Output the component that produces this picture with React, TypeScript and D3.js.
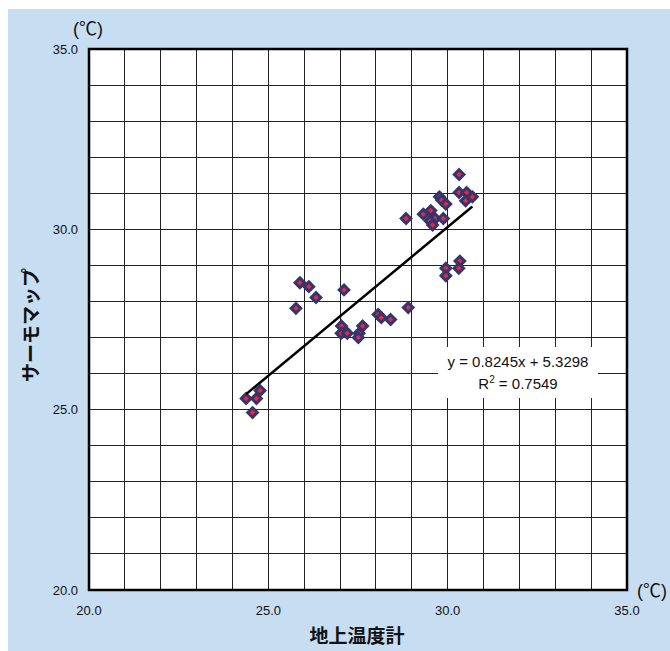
import React from "react";
import { scaleLinear, range, line, extent } from "d3";

// readings: ground thermometer (x) vs thermal map (y), in °C
const groundTemp = [
  30.32, 30.32, 30.53, 30.69, 30.5, 29.77, 29.83, 29.95, 28.84, 29.32,
  29.53, 29.65, 29.51, 29.58, 29.88, 30.34, 29.95, 30.31, 29.95,
  25.88, 26.13, 26.33, 25.77, 27.11, 27.04, 27.03, 27.2, 27.63, 27.53,
  27.51, 28.06, 28.15, 28.41, 28.9,
  24.38, 24.67, 24.77, 24.56,
];
const thermoMap = [
  31.52, 31.02, 31.02, 30.9, 30.79, 30.9, 30.81, 30.7, 30.3, 30.42,
  30.52, 30.3, 30.23, 30.12, 30.3, 29.12, 28.92, 28.92, 28.71,
  28.52, 28.41, 28.11, 27.81, 28.32, 27.32, 27.12, 27.12, 27.32, 27.12,
  27.0, 27.64, 27.55, 27.5, 27.83,
  25.31, 25.31, 25.53, 24.92,
];
const slope = 0.8245;
const intercept = 5.3298;
const rSquared = 0.7549;
const axisTicks = [20, 25, 30, 35];
const gridTicks = range(20, 36, 1);

const W = 670;
const H = 651;
const plot = { left: 89, top: 49, right: 627, bottom: 590 };

export default function App() {
  const x = scaleLinear().domain([20, 35]).range([plot.left, plot.right]);
  const y = scaleLinear().domain([20, 35]).range([plot.bottom, plot.top]);

  const pts = groundTemp.map((g, i) => ({ g, t: thermoMap[i] }));
  const [x0, x1] = extent(groundTemp) as [number, number];
  const trend = line<number>()
    .x((d) => x(d))
    .y((d) => y(slope * d + intercept))([x0, x1]);

  const font = "'Liberation Sans', Arial, 'Noto Sans CJK JP', sans-serif";
  const jp = "'Noto Sans CJK JP', sans-serif";

  // label box for the trend equation
  const box = { x: 438, y: 347, w: 160, h: 51 };

  return (
    <svg
      width={W}
      height={H}
      style={{ position: "absolute", left: 0, top: 0 }}
      fontFamily={font}
    >
      <rect x={8} y={9} width={W - 8} height={H - 9} fill="#c6ddf2" />
      <rect
        x={plot.left}
        y={plot.top}
        width={plot.right - plot.left}
        height={plot.bottom - plot.top}
        fill="#fff"
      />
      <g stroke="#222" strokeWidth={1} shapeRendering="crispEdges">
        {gridTicks.map((v) => (
          <line key={"v" + v} x1={x(v)} x2={x(v)} y1={plot.top} y2={plot.bottom} />
        ))}
        {gridTicks.map((v) => (
          <line key={"h" + v} x1={plot.left} x2={plot.right} y1={y(v)} y2={y(v)} />
        ))}
      </g>
      {pts.map((p, i) => {
        const cx = x(p.g);
        const cy = y(p.t);
        return (
          <g key={i} transform={`translate(${cx},${cy})`}>
            <path d="M0,-4.8L4.8,0L0,4.8L-4.8,0Z" fill="#e8283a" stroke="#33366e" strokeWidth={3} />
          </g>
        );
      })}
      <path d={trend ?? ""} fill="none" stroke="#000" strokeWidth={2.5} />
      <rect x={box.x} y={box.y} width={box.w} height={box.h} fill="#fff" />
      <text x={box.x + box.w / 2} y={box.y + 20} textAnchor="middle" fontSize={15} fill="#111">
        {`y = ${slope}x + ${intercept}`}
      </text>
      <text x={box.x + box.w / 2} y={box.y + 42} textAnchor="middle" fontSize={15} fill="#111">
        R<tspan fontSize={10} dy={-6}>2</tspan>
        <tspan dy={6}>{` = ${rSquared}`}</tspan>
      </text>
      <rect
        x={plot.left}
        y={plot.top}
        width={plot.right - plot.left}
        height={plot.bottom - plot.top}
        fill="none"
        stroke="#000"
        strokeWidth={2.5}
      />
      {axisTicks.map((v) => (
        <text key={"yl" + v} x={78} y={y(v)} dy="0.35em" textAnchor="end" fontSize={13} fill="#111">
          {v.toFixed(1)}
        </text>
      ))}
      {axisTicks.map((v) => (
        <text key={"xl" + v} x={x(v)} y={615} textAnchor="middle" fontSize={13} fill="#111">
          {v.toFixed(1)}
        </text>
      ))}
      <text x={88} y={35} textAnchor="middle" fontSize={18} fill="#111">(℃)</text>
      <text x={637} y={597} fontSize={18} fill="#111">(℃)</text>
      <text x={357} y={643} textAnchor="middle" fontSize={19} fontFamily={jp} fontWeight={600} fill="#111">
        地上温度計
      </text>
      <text
        transform={`translate(38,325) rotate(-90)`}
        textAnchor="middle"
        fontSize={19}
        fontFamily={jp}
        fontWeight={600}
        fill="#111"
      >
        サーモマップ
      </text>
    </svg>
  );
}
